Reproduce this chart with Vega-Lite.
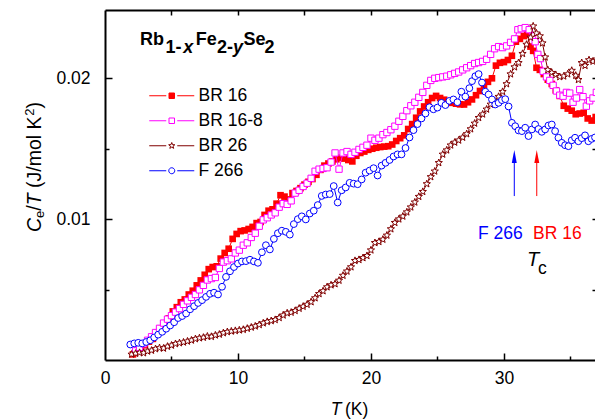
{
"$schema": "https://vega.github.io/schema/vega-lite/v6.json",
"autosize": "none",
"width": 492,
"height": 350,
"padding": {"left": 105, "top": 10, "right": 0, "bottom": 59},
"background": "white",
"config": {
  "view": {"stroke": null},
  "axis": {"grid": false, "domainColor": "black", "domainWidth": 2, "tickColor": "black", "tickWidth": 1.5, "labelColor": "black", "labelFont": "Liberation Sans", "labelFontSize": 17.5, "labelOverlap": false, "labelFlush": false, "title": null}
},
"resolve": {"axis": {"x": "independent", "y": "independent"}},
"datasets": {
"d": [
{"s":"BR 16","T":2.1,"C":0.0004},{"s":"BR 16","T":2.4,"C":0.0006},{"s":"BR 16","T":2.7,"C":0.00085},{"s":"BR 16","T":3.0,"C":0.00105},{"s":"BR 16","T":3.3,"C":0.0013},{"s":"BR 16","T":3.6,"C":0.0015},{"s":"BR 16","T":3.9,"C":0.0019},{"s":"BR 16","T":4.2,"C":0.00225},{"s":"BR 16","T":4.5,"C":0.0026},{"s":"BR 16","T":4.8,"C":0.00295},{"s":"BR 16","T":5.1,"C":0.00345},{"s":"BR 16","T":5.4,"C":0.00375},{"s":"BR 16","T":5.7,"C":0.0041},{"s":"BR 16","T":6.0,"C":0.0043},{"s":"BR 16","T":6.3,"C":0.00465},{"s":"BR 16","T":6.6,"C":0.00492},{"s":"BR 16","T":6.9,"C":0.0053},{"s":"BR 16","T":7.2,"C":0.00565},{"s":"BR 16","T":7.5,"C":0.00605},{"s":"BR 16","T":7.8,"C":0.00645},{"s":"BR 16","T":8.1,"C":0.0066},{"s":"BR 16","T":8.4,"C":0.00665},{"s":"BR 16","T":8.7,"C":0.0072},{"s":"BR 16","T":9.0,"C":0.0076},{"s":"BR 16","T":9.3,"C":0.0079},{"s":"BR 16","T":9.6,"C":0.0086},{"s":"BR 16","T":9.9,"C":0.00895},{"s":"BR 16","T":10.2,"C":0.00915},{"s":"BR 16","T":10.5,"C":0.0092},{"s":"BR 16","T":10.8,"C":0.0093},{"s":"BR 16","T":11.1,"C":0.00945},{"s":"BR 16","T":11.4,"C":0.00972},{"s":"BR 16","T":11.7,"C":0.0098},{"s":"BR 16","T":12.0,"C":0.0103},{"s":"BR 16","T":12.3,"C":0.0106},{"s":"BR 16","T":12.6,"C":0.0107},{"s":"BR 16","T":12.9,"C":0.0111},{"s":"BR 16","T":13.2,"C":0.0117},{"s":"BR 16","T":13.5,"C":0.0116},{"s":"BR 16","T":13.8,"C":0.0114},{"s":"BR 16","T":14.1,"C":0.01185},{"s":"BR 16","T":14.4,"C":0.012},{"s":"BR 16","T":14.7,"C":0.0122},{"s":"BR 16","T":15.0,"C":0.01245},{"s":"BR 16","T":15.3,"C":0.01265},{"s":"BR 16","T":15.6,"C":0.01285},{"s":"BR 16","T":15.9,"C":0.01315},{"s":"BR 16","T":16.2,"C":0.0135},{"s":"BR 16","T":16.5,"C":0.0138},{"s":"BR 16","T":16.8,"C":0.01395},{"s":"BR 16","T":17.1,"C":0.0141},{"s":"BR 16","T":17.4,"C":0.01425},{"s":"BR 16","T":17.7,"C":0.01436},{"s":"BR 16","T":18.0,"C":0.0143},{"s":"BR 16","T":18.3,"C":0.0142},{"s":"BR 16","T":18.6,"C":0.0141},{"s":"BR 16","T":18.9,"C":0.0145},{"s":"BR 16","T":19.2,"C":0.0147},{"s":"BR 16","T":19.5,"C":0.0148},{"s":"BR 16","T":19.8,"C":0.01492},{"s":"BR 16","T":20.1,"C":0.015},{"s":"BR 16","T":20.4,"C":0.01507},{"s":"BR 16","T":20.7,"C":0.01512},{"s":"BR 16","T":21.0,"C":0.01515},{"s":"BR 16","T":21.3,"C":0.01518},{"s":"BR 16","T":21.6,"C":0.0153},{"s":"BR 16","T":21.9,"C":0.01555},{"s":"BR 16","T":22.2,"C":0.01575},{"s":"BR 16","T":22.5,"C":0.01595},{"s":"BR 16","T":22.8,"C":0.0164},{"s":"BR 16","T":23.1,"C":0.01675},{"s":"BR 16","T":23.4,"C":0.0172},{"s":"BR 16","T":23.7,"C":0.01765},{"s":"BR 16","T":24.0,"C":0.018},{"s":"BR 16","T":24.3,"C":0.0183},{"s":"BR 16","T":24.6,"C":0.0186},{"s":"BR 16","T":24.9,"C":0.01875},{"s":"BR 16","T":25.2,"C":0.0186},{"s":"BR 16","T":25.5,"C":0.01848},{"s":"BR 16","T":25.8,"C":0.01835},{"s":"BR 16","T":26.1,"C":0.01826},{"s":"BR 16","T":26.4,"C":0.0182},{"s":"BR 16","T":26.7,"C":0.01815},{"s":"BR 16","T":27.0,"C":0.01814},{"s":"BR 16","T":27.3,"C":0.0183},{"s":"BR 16","T":27.6,"C":0.0185},{"s":"BR 16","T":27.9,"C":0.0188},{"s":"BR 16","T":28.2,"C":0.0191},{"s":"BR 16","T":28.5,"C":0.0195},{"s":"BR 16","T":28.8,"C":0.01975},{"s":"BR 16","T":29.1,"C":0.02},{"s":"BR 16","T":29.4,"C":0.0209},{"s":"BR 16","T":29.7,"C":0.0211},{"s":"BR 16","T":30.0,"C":0.02115},{"s":"BR 16","T":30.3,"C":0.0213},{"s":"BR 16","T":30.6,"C":0.0216},{"s":"BR 16","T":30.9,"C":0.0226},{"s":"BR 16","T":31.2,"C":0.0228},{"s":"BR 16","T":31.5,"C":0.023},{"s":"BR 16","T":31.75,"C":0.0231},{"s":"BR 16","T":32.0,"C":0.02225},{"s":"BR 16","T":32.2,"C":0.02195},{"s":"BR 16","T":32.45,"C":0.02075},{"s":"BR 16","T":32.7,"C":0.0206},{"s":"BR 16","T":33.0,"C":0.0203},{"s":"BR 16","T":33.3,"C":0.0199},{"s":"BR 16","T":33.6,"C":0.0196},{"s":"BR 16","T":33.9,"C":0.01915},{"s":"BR 16","T":34.2,"C":0.01875},{"s":"BR 16","T":34.5,"C":0.01805},{"s":"BR 16","T":34.8,"C":0.01785},{"s":"BR 16","T":35.1,"C":0.0177},{"s":"BR 16","T":35.4,"C":0.01745},{"s":"BR 16","T":35.7,"C":0.0175},{"s":"BR 16","T":36.0,"C":0.01755},{"s":"BR 16","T":36.3,"C":0.01715},{"s":"BR 16","T":36.6,"C":0.017},{"s":"BR 16","T":36.9,"C":0.01725},
{"s":"BR 16-8","T":2.3,"C":0.00065},{"s":"BR 16-8","T":2.6,"C":0.0009},{"s":"BR 16-8","T":2.9,"C":0.00115},{"s":"BR 16-8","T":3.2,"C":0.0014},{"s":"BR 16-8","T":3.5,"C":0.00165},{"s":"BR 16-8","T":3.8,"C":0.00195},{"s":"BR 16-8","T":4.1,"C":0.00225},{"s":"BR 16-8","T":4.4,"C":0.00262},{"s":"BR 16-8","T":4.7,"C":0.0029},{"s":"BR 16-8","T":5.0,"C":0.00315},{"s":"BR 16-8","T":5.3,"C":0.0034},{"s":"BR 16-8","T":5.6,"C":0.00365},{"s":"BR 16-8","T":5.9,"C":0.00395},{"s":"BR 16-8","T":6.2,"C":0.0042},{"s":"BR 16-8","T":6.5,"C":0.00445},{"s":"BR 16-8","T":6.8,"C":0.00465},{"s":"BR 16-8","T":7.1,"C":0.00498},{"s":"BR 16-8","T":7.4,"C":0.0053},{"s":"BR 16-8","T":7.7,"C":0.00568},{"s":"BR 16-8","T":8.0,"C":0.00578},{"s":"BR 16-8","T":8.3,"C":0.00586},{"s":"BR 16-8","T":8.6,"C":0.0065},{"s":"BR 16-8","T":8.9,"C":0.00695},{"s":"BR 16-8","T":9.2,"C":0.00705},{"s":"BR 16-8","T":9.5,"C":0.00718},{"s":"BR 16-8","T":9.8,"C":0.0076},{"s":"BR 16-8","T":10.1,"C":0.0078},{"s":"BR 16-8","T":10.4,"C":0.00815},{"s":"BR 16-8","T":10.7,"C":0.00832},{"s":"BR 16-8","T":11.0,"C":0.0087},{"s":"BR 16-8","T":11.3,"C":0.009},{"s":"BR 16-8","T":11.6,"C":0.0095},{"s":"BR 16-8","T":11.9,"C":0.00995},{"s":"BR 16-8","T":12.2,"C":0.0101},{"s":"BR 16-8","T":12.5,"C":0.0103},{"s":"BR 16-8","T":12.8,"C":0.01045},{"s":"BR 16-8","T":13.1,"C":0.01085},{"s":"BR 16-8","T":13.4,"C":0.0111},{"s":"BR 16-8","T":13.7,"C":0.01105},{"s":"BR 16-8","T":14.0,"C":0.0113},{"s":"BR 16-8","T":14.3,"C":0.01185},{"s":"BR 16-8","T":14.6,"C":0.01205},{"s":"BR 16-8","T":14.9,"C":0.01232},{"s":"BR 16-8","T":15.2,"C":0.01255},{"s":"BR 16-8","T":15.5,"C":0.0129},{"s":"BR 16-8","T":15.8,"C":0.0134},{"s":"BR 16-8","T":16.1,"C":0.01355},{"s":"BR 16-8","T":16.4,"C":0.0136},{"s":"BR 16-8","T":16.7,"C":0.01365},{"s":"BR 16-8","T":17.0,"C":0.01405},{"s":"BR 16-8","T":17.3,"C":0.0147},{"s":"BR 16-8","T":17.6,"C":0.01355},{"s":"BR 16-8","T":17.9,"C":0.0147},{"s":"BR 16-8","T":18.2,"C":0.0148},{"s":"BR 16-8","T":18.5,"C":0.0146},{"s":"BR 16-8","T":18.8,"C":0.01475},{"s":"BR 16-8","T":19.1,"C":0.01495},{"s":"BR 16-8","T":19.4,"C":0.0151},{"s":"BR 16-8","T":19.7,"C":0.01525},{"s":"BR 16-8","T":20.0,"C":0.01575},{"s":"BR 16-8","T":20.3,"C":0.0156},{"s":"BR 16-8","T":20.6,"C":0.01575},{"s":"BR 16-8","T":20.9,"C":0.016},{"s":"BR 16-8","T":21.2,"C":0.01615},{"s":"BR 16-8","T":21.5,"C":0.01635},{"s":"BR 16-8","T":21.8,"C":0.0166},{"s":"BR 16-8","T":22.1,"C":0.01695},{"s":"BR 16-8","T":22.4,"C":0.0173},{"s":"BR 16-8","T":22.7,"C":0.0177},{"s":"BR 16-8","T":23.0,"C":0.01805},{"s":"BR 16-8","T":23.3,"C":0.0183},{"s":"BR 16-8","T":23.6,"C":0.01865},{"s":"BR 16-8","T":23.9,"C":0.019},{"s":"BR 16-8","T":24.2,"C":0.0195},{"s":"BR 16-8","T":24.5,"C":0.01985},{"s":"BR 16-8","T":24.8,"C":0.02},{"s":"BR 16-8","T":25.1,"C":0.02005},{"s":"BR 16-8","T":25.4,"C":0.0201},{"s":"BR 16-8","T":25.7,"C":0.02015},{"s":"BR 16-8","T":26.0,"C":0.02025},{"s":"BR 16-8","T":26.3,"C":0.02035},{"s":"BR 16-8","T":26.6,"C":0.02045},{"s":"BR 16-8","T":26.9,"C":0.0206},{"s":"BR 16-8","T":27.2,"C":0.02075},{"s":"BR 16-8","T":27.5,"C":0.0209},{"s":"BR 16-8","T":27.8,"C":0.02105},{"s":"BR 16-8","T":28.1,"C":0.02112},{"s":"BR 16-8","T":28.4,"C":0.0212},{"s":"BR 16-8","T":28.7,"C":0.02135},{"s":"BR 16-8","T":29.0,"C":0.0217},{"s":"BR 16-8","T":29.3,"C":0.0221},{"s":"BR 16-8","T":29.6,"C":0.02225},{"s":"BR 16-8","T":29.9,"C":0.02218},{"s":"BR 16-8","T":30.2,"C":0.0223},{"s":"BR 16-8","T":30.5,"C":0.02255},{"s":"BR 16-8","T":30.8,"C":0.0228},{"s":"BR 16-8","T":31.05,"C":0.02345},{"s":"BR 16-8","T":31.3,"C":0.02352},{"s":"BR 16-8","T":31.6,"C":0.0236},{"s":"BR 16-8","T":31.9,"C":0.02345},{"s":"BR 16-8","T":32.15,"C":0.023},{"s":"BR 16-8","T":32.35,"C":0.0226},{"s":"BR 16-8","T":32.55,"C":0.0217},{"s":"BR 16-8","T":32.75,"C":0.0214},{"s":"BR 16-8","T":32.95,"C":0.0205},{"s":"BR 16-8","T":33.2,"C":0.0201},{"s":"BR 16-8","T":33.45,"C":0.01985},{"s":"BR 16-8","T":33.7,"C":0.0195},{"s":"BR 16-8","T":33.95,"C":0.0191},{"s":"BR 16-8","T":34.2,"C":0.0188},{"s":"BR 16-8","T":34.45,"C":0.01873},{"s":"BR 16-8","T":34.7,"C":0.019},{"s":"BR 16-8","T":34.95,"C":0.01895},{"s":"BR 16-8","T":35.2,"C":0.0183},{"s":"BR 16-8","T":35.45,"C":0.0186},{"s":"BR 16-8","T":35.7,"C":0.0192},{"s":"BR 16-8","T":35.95,"C":0.0187},{"s":"BR 16-8","T":36.2,"C":0.01802},{"s":"BR 16-8","T":36.45,"C":0.0184},{"s":"BR 16-8","T":36.7,"C":0.0186},{"s":"BR 16-8","T":36.95,"C":0.019},
{"s":"BR 26","T":2.0,"C":0.0004},{"s":"BR 26","T":2.3,"C":0.00046},{"s":"BR 26","T":2.6,"C":0.00052},{"s":"BR 26","T":2.9,"C":0.0005},{"s":"BR 26","T":3.2,"C":0.00062},{"s":"BR 26","T":3.5,"C":0.00068},{"s":"BR 26","T":3.8,"C":0.00079},{"s":"BR 26","T":4.1,"C":0.00086},{"s":"BR 26","T":4.4,"C":0.00083},{"s":"BR 26","T":4.7,"C":0.00096},{"s":"BR 26","T":5.0,"C":0.00104},{"s":"BR 26","T":5.3,"C":0.00115},{"s":"BR 26","T":5.6,"C":0.00121},{"s":"BR 26","T":5.9,"C":0.00126},{"s":"BR 26","T":6.2,"C":0.00133},{"s":"BR 26","T":6.5,"C":0.0014},{"s":"BR 26","T":6.8,"C":0.0015},{"s":"BR 26","T":7.1,"C":0.00156},{"s":"BR 26","T":7.4,"C":0.0016},{"s":"BR 26","T":7.7,"C":0.00168},{"s":"BR 26","T":8.0,"C":0.00166},{"s":"BR 26","T":8.3,"C":0.00176},{"s":"BR 26","T":8.6,"C":0.00182},{"s":"BR 26","T":8.9,"C":0.00192},{"s":"BR 26","T":9.2,"C":0.002},{"s":"BR 26","T":9.5,"C":0.00204},{"s":"BR 26","T":9.8,"C":0.00208},{"s":"BR 26","T":10.1,"C":0.00212},{"s":"BR 26","T":10.4,"C":0.00216},{"s":"BR 26","T":10.7,"C":0.00224},{"s":"BR 26","T":11.0,"C":0.00232},{"s":"BR 26","T":11.3,"C":0.0024},{"s":"BR 26","T":11.6,"C":0.0025},{"s":"BR 26","T":11.9,"C":0.00262},{"s":"BR 26","T":12.2,"C":0.00272},{"s":"BR 26","T":12.5,"C":0.00278},{"s":"BR 26","T":12.8,"C":0.00286},{"s":"BR 26","T":13.1,"C":0.003},{"s":"BR 26","T":13.4,"C":0.00318},{"s":"BR 26","T":13.7,"C":0.00333},{"s":"BR 26","T":14.0,"C":0.00338},{"s":"BR 26","T":14.3,"C":0.0035},{"s":"BR 26","T":14.6,"C":0.00366},{"s":"BR 26","T":14.9,"C":0.0038},{"s":"BR 26","T":15.2,"C":0.00394},{"s":"BR 26","T":15.5,"C":0.00412},{"s":"BR 26","T":15.8,"C":0.0044},{"s":"BR 26","T":16.1,"C":0.0047},{"s":"BR 26","T":16.4,"C":0.0049},{"s":"BR 26","T":16.7,"C":0.00518},{"s":"BR 26","T":17.0,"C":0.00532},{"s":"BR 26","T":17.3,"C":0.0054},{"s":"BR 26","T":17.6,"C":0.00565},{"s":"BR 26","T":17.9,"C":0.006},{"s":"BR 26","T":18.2,"C":0.0063},{"s":"BR 26","T":18.5,"C":0.0066},{"s":"BR 26","T":18.8,"C":0.00705},{"s":"BR 26","T":19.1,"C":0.00712},{"s":"BR 26","T":19.4,"C":0.00725},{"s":"BR 26","T":19.7,"C":0.0074},{"s":"BR 26","T":20.0,"C":0.0078},{"s":"BR 26","T":20.3,"C":0.00832},{"s":"BR 26","T":20.6,"C":0.0084},{"s":"BR 26","T":20.9,"C":0.00856},{"s":"BR 26","T":21.2,"C":0.00885},{"s":"BR 26","T":21.5,"C":0.0093},{"s":"BR 26","T":21.8,"C":0.00975},{"s":"BR 26","T":22.1,"C":0.01},{"s":"BR 26","T":22.4,"C":0.0102},{"s":"BR 26","T":22.7,"C":0.0105},{"s":"BR 26","T":23.0,"C":0.01085},{"s":"BR 26","T":23.3,"C":0.0112},{"s":"BR 26","T":23.6,"C":0.0116},{"s":"BR 26","T":23.9,"C":0.01195},{"s":"BR 26","T":24.2,"C":0.0125},{"s":"BR 26","T":24.5,"C":0.013},{"s":"BR 26","T":24.8,"C":0.0134},{"s":"BR 26","T":25.1,"C":0.014},{"s":"BR 26","T":25.4,"C":0.0146},{"s":"BR 26","T":25.7,"C":0.0149},{"s":"BR 26","T":26.0,"C":0.01525},{"s":"BR 26","T":26.3,"C":0.01545},{"s":"BR 26","T":26.6,"C":0.0156},{"s":"BR 26","T":26.9,"C":0.0158},{"s":"BR 26","T":27.2,"C":0.01605},{"s":"BR 26","T":27.5,"C":0.0164},{"s":"BR 26","T":27.8,"C":0.0168},{"s":"BR 26","T":28.1,"C":0.0172},{"s":"BR 26","T":28.4,"C":0.01745},{"s":"BR 26","T":28.7,"C":0.0178},{"s":"BR 26","T":29.0,"C":0.01815},{"s":"BR 26","T":29.3,"C":0.0184},{"s":"BR 26","T":29.6,"C":0.0187},{"s":"BR 26","T":29.9,"C":0.01905},{"s":"BR 26","T":30.2,"C":0.0196},{"s":"BR 26","T":30.5,"C":0.0203},{"s":"BR 26","T":30.8,"C":0.0208},{"s":"BR 26","T":31.1,"C":0.0211},{"s":"BR 26","T":31.4,"C":0.02175},{"s":"BR 26","T":31.7,"C":0.0224},{"s":"BR 26","T":32.0,"C":0.0229},{"s":"BR 26","T":32.2,"C":0.0237},{"s":"BR 26","T":32.45,"C":0.0232},{"s":"BR 26","T":32.7,"C":0.023},{"s":"BR 26","T":32.9,"C":0.0225},{"s":"BR 26","T":33.1,"C":0.0215},{"s":"BR 26","T":33.3,"C":0.0206},{"s":"BR 26","T":33.6,"C":0.0204},{"s":"BR 26","T":33.9,"C":0.02025},{"s":"BR 26","T":34.2,"C":0.0201},{"s":"BR 26","T":34.5,"C":0.02015},{"s":"BR 26","T":34.8,"C":0.0203},{"s":"BR 26","T":35.1,"C":0.02055},{"s":"BR 26","T":35.4,"C":0.0202},{"s":"BR 26","T":35.6,"C":0.0199},{"s":"BR 26","T":35.85,"C":0.0211},{"s":"BR 26","T":36.1,"C":0.0209},{"s":"BR 26","T":36.4,"C":0.0213},{"s":"BR 26","T":36.7,"C":0.0212},{"s":"BR 26","T":36.95,"C":0.02135},
{"s":"F 266","T":1.9,"C":0.0011},{"s":"F 266","T":2.2,"C":0.00118},{"s":"F 266","T":2.5,"C":0.00122},{"s":"F 266","T":2.8,"C":0.00118},{"s":"F 266","T":3.1,"C":0.00128},{"s":"F 266","T":3.4,"C":0.0014},{"s":"F 266","T":3.7,"C":0.0016},{"s":"F 266","T":4.0,"C":0.0018},{"s":"F 266","T":4.3,"C":0.002},{"s":"F 266","T":4.6,"C":0.00222},{"s":"F 266","T":4.9,"C":0.00245},{"s":"F 266","T":5.2,"C":0.00268},{"s":"F 266","T":5.5,"C":0.00298},{"s":"F 266","T":5.8,"C":0.00312},{"s":"F 266","T":6.1,"C":0.0033},{"s":"F 266","T":6.4,"C":0.0036},{"s":"F 266","T":6.7,"C":0.00382},{"s":"F 266","T":7.0,"C":0.00405},{"s":"F 266","T":7.3,"C":0.00425},{"s":"F 266","T":7.6,"C":0.00448},{"s":"F 266","T":7.9,"C":0.0047},{"s":"F 266","T":8.2,"C":0.00478},{"s":"F 266","T":8.5,"C":0.00465},{"s":"F 266","T":8.8,"C":0.0052},{"s":"F 266","T":9.1,"C":0.0059},{"s":"F 266","T":9.4,"C":0.0063},{"s":"F 266","T":9.7,"C":0.0066},{"s":"F 266","T":10.0,"C":0.00685},{"s":"F 266","T":10.3,"C":0.007},{"s":"F 266","T":10.6,"C":0.00702},{"s":"F 266","T":10.9,"C":0.00712},{"s":"F 266","T":11.2,"C":0.007},{"s":"F 266","T":11.5,"C":0.0069},{"s":"F 266","T":11.8,"C":0.00765},{"s":"F 266","T":12.1,"C":0.00815},{"s":"F 266","T":12.4,"C":0.00785},{"s":"F 266","T":12.7,"C":0.0086},{"s":"F 266","T":13.0,"C":0.009},{"s":"F 266","T":13.3,"C":0.00918},{"s":"F 266","T":13.6,"C":0.0091},{"s":"F 266","T":13.9,"C":0.0089},{"s":"F 266","T":14.2,"C":0.00965},{"s":"F 266","T":14.5,"C":0.01},{"s":"F 266","T":14.8,"C":0.0102},{"s":"F 266","T":15.1,"C":0.00998},{"s":"F 266","T":15.4,"C":0.0104},{"s":"F 266","T":15.7,"C":0.0106},{"s":"F 266","T":16.0,"C":0.011},{"s":"F 266","T":16.3,"C":0.01165},{"s":"F 266","T":16.6,"C":0.01175},{"s":"F 266","T":16.9,"C":0.01178},{"s":"F 266","T":17.2,"C":0.01235},{"s":"F 266","T":17.5,"C":0.01118},{"s":"F 266","T":17.8,"C":0.01205},{"s":"F 266","T":18.1,"C":0.01225},{"s":"F 266","T":18.4,"C":0.01258},{"s":"F 266","T":18.7,"C":0.01252},{"s":"F 266","T":19.0,"C":0.01248},{"s":"F 266","T":19.3,"C":0.01282},{"s":"F 266","T":19.6,"C":0.0133},{"s":"F 266","T":19.9,"C":0.01345},{"s":"F 266","T":20.2,"C":0.01362},{"s":"F 266","T":20.5,"C":0.0131},{"s":"F 266","T":20.8,"C":0.0138},{"s":"F 266","T":21.1,"C":0.014},{"s":"F 266","T":21.4,"C":0.0142},{"s":"F 266","T":21.7,"C":0.01445},{"s":"F 266","T":22.0,"C":0.0146},{"s":"F 266","T":22.3,"C":0.0146},{"s":"F 266","T":22.6,"C":0.01505},{"s":"F 266","T":22.9,"C":0.0158},{"s":"F 266","T":23.2,"C":0.01632},{"s":"F 266","T":23.5,"C":0.01675},{"s":"F 266","T":23.8,"C":0.01715},{"s":"F 266","T":24.1,"C":0.0175},{"s":"F 266","T":24.4,"C":0.01795},{"s":"F 266","T":24.7,"C":0.0178},{"s":"F 266","T":25.0,"C":0.01792},{"s":"F 266","T":25.3,"C":0.01826},{"s":"F 266","T":25.6,"C":0.0181},{"s":"F 266","T":25.9,"C":0.0184},{"s":"F 266","T":26.2,"C":0.0185},{"s":"F 266","T":26.5,"C":0.0183},{"s":"F 266","T":26.8,"C":0.01905},{"s":"F 266","T":27.1,"C":0.0187},{"s":"F 266","T":27.4,"C":0.0193},{"s":"F 266","T":27.6,"C":0.0198},{"s":"F 266","T":27.85,"C":0.02015},{"s":"F 266","T":28.1,"C":0.0203},{"s":"F 266","T":28.35,"C":0.0197},{"s":"F 266","T":28.6,"C":0.01905},{"s":"F 266","T":28.85,"C":0.01885},{"s":"F 266","T":29.1,"C":0.0185},{"s":"F 266","T":29.35,"C":0.01814},{"s":"F 266","T":29.6,"C":0.01826},{"s":"F 266","T":29.85,"C":0.01845},{"s":"F 266","T":30.1,"C":0.01852},{"s":"F 266","T":30.35,"C":0.018},{"s":"F 266","T":30.6,"C":0.01684},{"s":"F 266","T":30.85,"C":0.0166},{"s":"F 266","T":31.1,"C":0.0163},{"s":"F 266","T":31.35,"C":0.01625},{"s":"F 266","T":31.6,"C":0.01649},{"s":"F 266","T":31.85,"C":0.0159},{"s":"F 266","T":32.1,"C":0.01637},{"s":"F 266","T":32.35,"C":0.01672},{"s":"F 266","T":32.6,"C":0.0164},{"s":"F 266","T":32.85,"C":0.0162},{"s":"F 266","T":33.1,"C":0.01637},{"s":"F 266","T":33.35,"C":0.01665},{"s":"F 266","T":33.6,"C":0.01672},{"s":"F 266","T":33.85,"C":0.01625},{"s":"F 266","T":34.1,"C":0.01578},{"s":"F 266","T":34.35,"C":0.01542},{"s":"F 266","T":34.6,"C":0.01525},{"s":"F 266","T":34.85,"C":0.01518},{"s":"F 266","T":35.1,"C":0.0156},{"s":"F 266","T":35.35,"C":0.01578},{"s":"F 266","T":35.6,"C":0.01553},{"s":"F 266","T":35.85,"C":0.01575},{"s":"F 266","T":36.1,"C":0.01595},{"s":"F 266","T":36.35,"C":0.01553},{"s":"F 266","T":36.6,"C":0.0157},{"s":"F 266","T":36.85,"C":0.0158}
]
},
"layer": [
{
 "data": {"name": "d"},
 "transform": [{"filter": "datum.s === 'BR 16'"}],
 "mark": {"type": "line", "color": "#FF0000", "strokeWidth": 1, "point": {"shape": "square", "filled": true, "size": 44, "color": "#FF0000", "opacity": 1}},
 "encoding": {
  "x": {"field": "T", "type": "quantitative", "scale": {"domain": [0, 37], "nice": false, "zero": false}, "axis": {"orient": "bottom", "values": [0,10,20,30], "format": "d", "ticks": false, "tickSize": 0, "labelPadding": 9}},
  "y": {"field": "C", "type": "quantitative", "scale": {"domain": [0, 0.02485], "nice": false, "zero": false}, "axis": {"orient": "left", "values": [0.01,0.02], "format": ".2f", "ticks": false, "tickSize": 0, "labelPadding": 15}}
 }
},
{
 "data": {"name": "d"},
 "transform": [{"filter": "datum.s === 'BR 16-8'"}],
 "mark": {"type": "line", "color": "#FF00FF", "strokeWidth": 1, "point": {"shape": "square", "filled": false, "fill": "white", "stroke": "#FF00FF", "strokeWidth": 1, "size": 40, "opacity": 1}},
 "encoding": {
  "x": {"field": "T", "type": "quantitative", "scale": {"domain": [0, 37], "nice": false, "zero": false}, "axis": {"orient": "top", "values": [5], "labels": false, "ticks": false}},
  "y": {"field": "C", "type": "quantitative", "scale": {"domain": [0, 0.02485], "nice": false, "zero": false}, "axis": {"orient": "right", "values": [0.01], "labels": false, "ticks": false}}
 }
},
{
 "data": {"name": "d"},
 "transform": [{"filter": "datum.s === 'BR 26'"}],
 "mark": {"type": "line", "color": "#800000", "strokeWidth": 1, "point": {"shape": "M0,-1L0.245,-0.336L0.951,-0.309L0.396,0.128L0.588,0.809L0,0.415L-0.588,0.809L-0.396,0.128L-0.951,-0.309L-0.245,-0.336Z", "filled": false, "fill": "white", "stroke": "#800000", "strokeWidth": 1, "size": 58, "opacity": 1}},
 "encoding": {
  "x": {"field": "T", "type": "quantitative", "scale": {"domain": [0, 37], "nice": false, "zero": false}, "axis": {"orient": "bottom", "values": [10,20,30], "labels": false, "domain": false, "tickSize": 7, "offset": -7}},
  "y": {"field": "C", "type": "quantitative", "scale": {"domain": [0, 0.02485], "nice": false, "zero": false}, "axis": {"orient": "left", "values": [0.01,0.02], "labels": false, "domain": false, "tickSize": 7, "offset": -7}}
 }
},
{
 "data": {"name": "d"},
 "transform": [{"filter": "datum.s === 'F 266'"}],
 "mark": {"type": "line", "color": "#0000FF", "strokeWidth": 1, "point": {"shape": "circle", "filled": false, "fill": "white", "stroke": "#0000FF", "strokeWidth": 1, "size": 46, "opacity": 1}},
 "encoding": {
  "x": {"field": "T", "type": "quantitative", "scale": {"domain": [0, 37], "nice": false, "zero": false}, "axis": {"orient": "bottom", "values": [5,15,25,35], "labels": false, "domain": false, "tickSize": 4, "offset": -4}},
  "y": {"field": "C", "type": "quantitative", "scale": {"domain": [0, 0.02485], "nice": false, "zero": false}, "axis": {"orient": "left", "values": [0.005,0.015], "labels": false, "domain": false, "tickSize": 4, "offset": -4}}
 }
},
{
 "data": {"values": [{"s": "BR 16"}, {"s": "BR 16-8"}, {"s": "BR 26"}, {"s": "F 266"}]},
 "mark": {"type": "point", "clip": true, "opacity": 1, "strokeWidth": 1},
 "encoding": {
  "x": {"datum": -50, "type": "quantitative", "scale": {"domain": [0, 37], "nice": false, "zero": false}, "axis": {"orient": "top", "values": [5,10,15,20,25,30,35], "labels": false, "domain": false, "tickSize": 5, "offset": -5}},
  "y": {"datum": -1, "type": "quantitative", "scale": {"domain": [0, 0.02485], "nice": false, "zero": false}, "axis": {"orient": "right", "values": [0.005,0.01,0.015,0.02], "labels": false, "domain": false, "tickSize": 5, "offset": -5}},
  "stroke": {"field": "s", "type": "nominal", "scale": {"domain": ["BR 16", "BR 16-8", "BR 26", "F 266"], "range": ["#FF0000", "#FF00FF", "#800000", "#0000FF"]}, "legend": {"orient": "none", "legendX": 58, "legendY": 77, "title": null, "padding": 0, "labelFont": "Liberation Sans", "labelFontSize": 17.5, "labelColor": "black", "symbolSize": 100, "symbolStrokeWidth": 1, "rowPadding": 6, "labelOffset": 18}},
  "fill": {"field": "s", "type": "nominal", "scale": {"domain": ["BR 16", "BR 16-8", "BR 26", "F 266"], "range": ["#FF0000", "#FFFFFF", "#FFFFFF", "#FFFFFF"]}, "legend": {"orient": "none", "legendX": 58, "legendY": 77, "title": null, "padding": 0, "labelFont": "Liberation Sans", "labelFontSize": 17.5, "labelColor": "black", "symbolSize": 100, "symbolStrokeWidth": 1, "rowPadding": 6, "labelOffset": 18}},
  "shape": {"field": "s", "type": "nominal", "scale": {"domain": ["BR 16", "BR 16-8", "BR 26", "F 266"], "range": ["M-4.5,0H-1.1M1.1,0H4.5M-0.55,-0.55H0.55V0.55H-0.55Z", "M-4.5,0H-1.1M1.1,0H4.5M-0.55,-0.55H0.55V0.55H-0.55Z", "M-4.5,0H-1.1M1.1,0H4.5M0,-0.65L0.159,-0.218L0.618,-0.201L0.257,0.083L0.382,0.526L0,0.27L-0.382,0.526L-0.257,0.083L-0.618,-0.201L-0.159,-0.218Z", "M-4.5,0H-1.1M1.1,0H4.5M-0.6,0A0.6,0.6,0,1,0,0.6,0A0.6,0.6,0,1,0,-0.6,0Z"]}, "legend": {"orient": "none", "legendX": 58, "legendY": 77, "title": null, "padding": 0, "labelFont": "Liberation Sans", "labelFontSize": 17.5, "labelColor": "black", "symbolSize": 100, "symbolStrokeWidth": 1, "rowPadding": 6, "labelOffset": 18}}
 }
},
{
 "data": {"values": [{}]},
 "mark": {"type": "rule", "color": "#0000FF", "strokeWidth": 1},
 "encoding": {
  "x": {"datum": 30.78, "type": "quantitative", "scale": {"domain": [0, 37], "nice": false, "zero": false}, "axis": null},
  "y": {"datum": 0.01164, "type": "quantitative", "scale": {"domain": [0, 0.02485], "nice": false, "zero": false}, "axis": null},
  "y2": {"datum": 0.0142}
 }
},
{
 "data": {"values": [{}]},
 "mark": {"type": "rule", "color": "#FF0000", "strokeWidth": 1},
 "encoding": {
  "x": {"datum": 32.47, "type": "quantitative", "scale": {"domain": [0, 37], "nice": false, "zero": false}, "axis": null},
  "y": {"datum": 0.01164, "type": "quantitative", "scale": {"domain": [0, 0.02485], "nice": false, "zero": false}, "axis": null},
  "y2": {"datum": 0.0142}
 }
},
{
 "data": {"values": [{}]},
 "mark": {"type": "point", "shape": "M0,-1L0.38,1L-0.38,1Z", "size": 169, "filled": true, "color": "#0000FF", "opacity": 1, "strokeWidth": 0},
 "encoding": {
  "x": {"datum": 30.78, "type": "quantitative", "scale": {"domain": [0, 37], "nice": false, "zero": false}, "axis": null},
  "y": {"datum": 0.01445, "type": "quantitative", "scale": {"domain": [0, 0.02485], "nice": false, "zero": false}, "axis": null}
 }
},
{
 "data": {"values": [{}]},
 "mark": {"type": "point", "shape": "M0,-1L0.38,1L-0.38,1Z", "size": 169, "filled": true, "color": "#FF0000", "opacity": 1, "strokeWidth": 0},
 "encoding": {
  "x": {"datum": 32.47, "type": "quantitative", "scale": {"domain": [0, 37], "nice": false, "zero": false}, "axis": null},
  "y": {"datum": 0.01445, "type": "quantitative", "scale": {"domain": [0, 0.02485], "nice": false, "zero": false}, "axis": null}
 }
},
{
 "data": {"values": [{}]},
 "mark": {"type": "text", "text": "F 266", "font": "Liberation Sans", "fontSize": 17.5, "color": "#0000FF", "align": "left", "baseline": "alphabetic"},
 "encoding": {
  "x": {"datum": 28.05, "type": "quantitative", "scale": {"domain": [0, 37], "nice": false, "zero": false}, "axis": null},
  "y": {"datum": 0.00859, "type": "quantitative", "scale": {"domain": [0, 0.02485], "nice": false, "zero": false}, "axis": null}
 }
},
{
 "data": {"values": [{}]},
 "mark": {"type": "text", "text": "BR 16", "font": "Liberation Sans", "fontSize": 17.5, "color": "#FF0000", "align": "left", "baseline": "alphabetic"},
 "encoding": {
  "x": {"datum": 32.19, "type": "quantitative", "scale": {"domain": [0, 37], "nice": false, "zero": false}, "axis": null},
  "y": {"datum": 0.00859, "type": "quantitative", "scale": {"domain": [0, 0.02485], "nice": false, "zero": false}, "axis": null}
 }
},
{
 "data": {"values": [{}]},
 "mark": {"type": "text", "text": "T", "font": "Liberation Sans", "fontSize": 20, "fontStyle": "italic", "color": "black", "align": "left", "baseline": "alphabetic"},
 "encoding": {
  "x": {"datum": 31.74, "type": "quantitative", "scale": {"domain": [0, 37], "nice": false, "zero": false}, "axis": null},
  "y": {"datum": 0.00667, "type": "quantitative", "scale": {"domain": [0, 0.02485], "nice": false, "zero": false}, "axis": null}
 }
},
{
 "data": {"values": [{}]},
 "mark": {"type": "text", "text": "c", "font": "Liberation Sans", "fontSize": 17.5, "color": "black", "align": "left", "baseline": "alphabetic"},
 "encoding": {
  "x": {"datum": 32.56, "type": "quantitative", "scale": {"domain": [0, 37], "nice": false, "zero": false}, "axis": null},
  "y": {"datum": 0.00611, "type": "quantitative", "scale": {"domain": [0, 0.02485], "nice": false, "zero": false}, "axis": null}
 }
},
{
 "data": {"values": [{}]},
 "mark": {"type": "text", "text": "Rb", "font": "Liberation Sans", "fontSize": 18, "fontWeight": "bold", "color": "black", "align": "left", "baseline": "alphabetic"},
 "encoding": {
  "x": {"datum": 2.63, "type": "quantitative", "scale": {"domain": [0, 37], "nice": false, "zero": false}, "axis": null},
  "y": {"datum": 0.0224, "type": "quantitative", "scale": {"domain": [0, 0.02485], "nice": false, "zero": false}, "axis": null}
 }
},
{
 "data": {"values": [{}]},
 "mark": {"type": "text", "text": "1-", "font": "Liberation Sans", "fontSize": 18, "fontWeight": "bold", "color": "black", "align": "left", "baseline": "alphabetic"},
 "encoding": {
  "x": {"datum": 4.55, "type": "quantitative", "scale": {"domain": [0, 37], "nice": false, "zero": false}, "axis": null},
  "y": {"datum": 0.02178, "type": "quantitative", "scale": {"domain": [0, 0.02485], "nice": false, "zero": false}, "axis": null}
 }
},
{
 "data": {"values": [{}]},
 "mark": {"type": "text", "text": "x", "font": "Liberation Sans", "fontSize": 18, "fontWeight": "bold", "fontStyle": "italic", "color": "black", "align": "left", "baseline": "alphabetic"},
 "encoding": {
  "x": {"datum": 5.88, "type": "quantitative", "scale": {"domain": [0, 37], "nice": false, "zero": false}, "axis": null},
  "y": {"datum": 0.02178, "type": "quantitative", "scale": {"domain": [0, 0.02485], "nice": false, "zero": false}, "axis": null}
 }
},
{
 "data": {"values": [{}]},
 "mark": {"type": "text", "text": "Fe", "font": "Liberation Sans", "fontSize": 18, "fontWeight": "bold", "color": "black", "align": "left", "baseline": "alphabetic"},
 "encoding": {
  "x": {"datum": 6.83, "type": "quantitative", "scale": {"domain": [0, 37], "nice": false, "zero": false}, "axis": null},
  "y": {"datum": 0.0224, "type": "quantitative", "scale": {"domain": [0, 0.02485], "nice": false, "zero": false}, "axis": null}
 }
},
{
 "data": {"values": [{}]},
 "mark": {"type": "text", "text": "2-", "font": "Liberation Sans", "fontSize": 18, "fontWeight": "bold", "color": "black", "align": "left", "baseline": "alphabetic"},
 "encoding": {
  "x": {"datum": 8.42, "type": "quantitative", "scale": {"domain": [0, 37], "nice": false, "zero": false}, "axis": null},
  "y": {"datum": 0.02178, "type": "quantitative", "scale": {"domain": [0, 0.02485], "nice": false, "zero": false}, "axis": null}
 }
},
{
 "data": {"values": [{}]},
 "mark": {"type": "text", "text": "y", "font": "Liberation Sans", "fontSize": 18, "fontWeight": "bold", "fontStyle": "italic", "color": "black", "align": "left", "baseline": "alphabetic"},
 "encoding": {
  "x": {"datum": 9.62, "type": "quantitative", "scale": {"domain": [0, 37], "nice": false, "zero": false}, "axis": null},
  "y": {"datum": 0.02178, "type": "quantitative", "scale": {"domain": [0, 0.02485], "nice": false, "zero": false}, "axis": null}
 }
},
{
 "data": {"values": [{}]},
 "mark": {"type": "text", "text": "Se", "font": "Liberation Sans", "fontSize": 18, "fontWeight": "bold", "color": "black", "align": "left", "baseline": "alphabetic"},
 "encoding": {
  "x": {"datum": 10.42, "type": "quantitative", "scale": {"domain": [0, 37], "nice": false, "zero": false}, "axis": null},
  "y": {"datum": 0.0224, "type": "quantitative", "scale": {"domain": [0, 0.02485], "nice": false, "zero": false}, "axis": null}
 }
},
{
 "data": {"values": [{}]},
 "mark": {"type": "text", "text": "2", "font": "Liberation Sans", "fontSize": 18, "fontWeight": "bold", "color": "black", "align": "left", "baseline": "alphabetic"},
 "encoding": {
  "x": {"datum": 12.0, "type": "quantitative", "scale": {"domain": [0, 37], "nice": false, "zero": false}, "axis": null},
  "y": {"datum": 0.02178, "type": "quantitative", "scale": {"domain": [0, 0.02485], "nice": false, "zero": false}, "axis": null}
 }
},
{
 "data": {"values": [{}]},
 "mark": {"type": "text", "text": "T", "font": "Liberation Sans", "fontSize": 17.5, "fontStyle": "italic", "color": "black", "align": "left", "baseline": "alphabetic"},
 "encoding": {
  "x": {"datum": 16.97, "type": "quantitative", "scale": {"domain": [0, 37], "nice": false, "zero": false}, "axis": null},
  "y": {"datum": -0.0039, "type": "quantitative", "scale": {"domain": [0, 0.02485], "nice": false, "zero": false}, "axis": null}
 }
},
{
 "data": {"values": [{}]},
 "mark": {"type": "text", "text": "(K)", "font": "Liberation Sans", "fontSize": 17.5, "color": "black", "align": "left", "baseline": "alphabetic"},
 "encoding": {
  "x": {"datum": 18.05, "type": "quantitative", "scale": {"domain": [0, 37], "nice": false, "zero": false}, "axis": null},
  "y": {"datum": -0.0039, "type": "quantitative", "scale": {"domain": [0, 0.02485], "nice": false, "zero": false}, "axis": null}
 }
},
{
 "data": {"values": [{}]},
 "mark": {"type": "text", "text": "C", "font": "Liberation Sans", "fontSize": 19.5, "fontStyle": "italic", "color": "black", "align": "left", "baseline": "alphabetic", "angle": 270},
 "encoding": {
  "x": {"datum": -4.85, "type": "quantitative", "scale": {"domain": [0, 37], "nice": false, "zero": false}, "axis": null},
  "y": {"datum": 0.009088, "type": "quantitative", "scale": {"domain": [0, 0.02485], "nice": false, "zero": false}, "axis": null}
 }
},
{
 "data": {"values": [{}]},
 "mark": {"type": "text", "text": "e", "font": "Liberation Sans", "fontSize": 13, "color": "black", "align": "left", "baseline": "alphabetic", "angle": 270},
 "encoding": {
  "x": {"datum": -4.55, "type": "quantitative", "scale": {"domain": [0, 37], "nice": false, "zero": false}, "axis": null},
  "y": {"datum": 0.010089, "type": "quantitative", "scale": {"domain": [0, 0.02485], "nice": false, "zero": false}, "axis": null}
 }
},
{
 "data": {"values": [{}]},
 "mark": {"type": "text", "text": "/", "font": "Liberation Sans", "fontSize": 19.5, "color": "black", "align": "left", "baseline": "alphabetic", "angle": 270},
 "encoding": {
  "x": {"datum": -4.85, "type": "quantitative", "scale": {"domain": [0, 37], "nice": false, "zero": false}, "axis": null},
  "y": {"datum": 0.0106, "type": "quantitative", "scale": {"domain": [0, 0.02485], "nice": false, "zero": false}, "axis": null}
 }
},
{
 "data": {"values": [{}]},
 "mark": {"type": "text", "text": "T", "font": "Liberation Sans", "fontSize": 19.5, "fontStyle": "italic", "color": "black", "align": "left", "baseline": "alphabetic", "angle": 270},
 "encoding": {
  "x": {"datum": -4.85, "type": "quantitative", "scale": {"domain": [0, 37], "nice": false, "zero": false}, "axis": null},
  "y": {"datum": 0.010984, "type": "quantitative", "scale": {"domain": [0, 0.02485], "nice": false, "zero": false}, "axis": null}
 }
},
{
 "data": {"values": [{}]},
 "mark": {"type": "text", "text": "(J/mol K", "font": "Liberation Sans", "fontSize": 19.5, "color": "black", "align": "left", "baseline": "alphabetic", "angle": 270},
 "encoding": {
  "x": {"datum": -4.85, "type": "quantitative", "scale": {"domain": [0, 37], "nice": false, "zero": false}, "axis": null},
  "y": {"datum": 0.01222, "type": "quantitative", "scale": {"domain": [0, 0.02485], "nice": false, "zero": false}, "axis": null}
 }
},
{
 "data": {"values": [{}]},
 "mark": {"type": "text", "text": "2", "font": "Liberation Sans", "fontSize": 13, "color": "black", "align": "left", "baseline": "alphabetic", "angle": 270},
 "encoding": {
  "x": {"datum": -5.34, "type": "quantitative", "scale": {"domain": [0, 37], "nice": false, "zero": false}, "axis": null},
  "y": {"datum": 0.01735, "type": "quantitative", "scale": {"domain": [0, 0.02485], "nice": false, "zero": false}, "axis": null}
 }
},
{
 "data": {"values": [{}]},
 "mark": {"type": "text", "text": ")", "font": "Liberation Sans", "fontSize": 19.5, "color": "black", "align": "left", "baseline": "alphabetic", "angle": 270},
 "encoding": {
  "x": {"datum": -4.85, "type": "quantitative", "scale": {"domain": [0, 37], "nice": false, "zero": false}, "axis": null},
  "y": {"datum": 0.01786, "type": "quantitative", "scale": {"domain": [0, 0.02485], "nice": false, "zero": false}, "axis": null}
 }
}
]
}
